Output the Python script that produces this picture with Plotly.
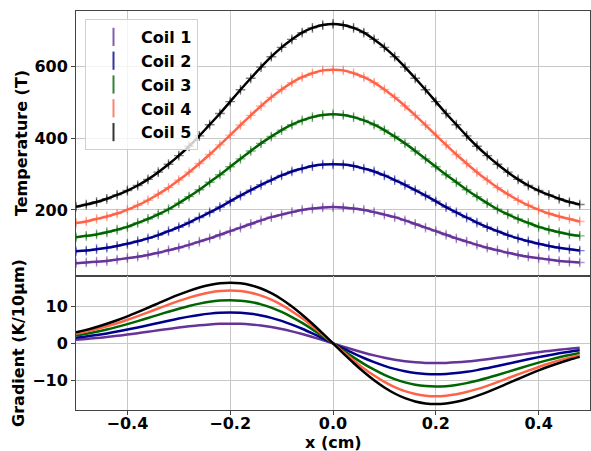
import plotly.graph_objects as go
from plotly.subplots import make_subplots

# positions (cm)
x_pos = [round(-0.50 + 0.02 * i, 2) for i in range(50)]

coil_names = ["Coil 1", "Coil 2", "Coil 3", "Coil 4", "Coil 5"]
coil_colors = ["#663399", "#00008b", "#006400", "#ff6347", "#000000"]

# Temperature (T)
temp_coil1 = [52, 54, 56, 58, 62, 66, 70, 75, 81, 88, 95, 103, 112, 121, 131, 141, 151, 161, 171, 180, 187, 194, 200, 204, 207,
              208,
              207, 204, 200, 194, 187, 180, 171, 161, 151, 141, 131, 121, 112, 103, 95, 88, 81, 75, 70, 66, 62, 58, 56, 54]
temp_coil2 = [85, 87, 91, 95, 100, 106, 113, 121, 130, 141, 152, 165, 179, 193, 208, 224, 240, 255, 270, 283, 296, 307, 315, 322, 326,
              327,
              326, 322, 315, 307, 296, 283, 270, 255, 240, 224, 208, 193, 179, 165, 152, 141, 130, 121, 113, 106, 100, 95, 91, 87]
temp_coil3 = [124, 128, 132, 138, 145, 153, 164, 175, 188, 202, 219, 237, 256, 277, 298, 320, 342, 364, 385, 404, 422, 437, 449, 458, 464,
              466,
              464, 458, 449, 437, 422, 404, 385, 364, 342, 320, 298, 277, 256, 237, 219, 202, 188, 175, 164, 153, 145, 138, 132, 128]
temp_coil4 = [164, 168, 175, 182, 190, 201, 213, 227, 244, 262, 283, 305, 329, 354, 381, 408, 436, 463, 489, 513, 535, 554, 569, 580, 588,
              590,
              588, 580, 569, 554, 535, 513, 489, 463, 436, 408, 381, 354, 329, 305, 283, 262, 244, 227, 213, 201, 190, 182, 175, 168]
temp_coil5 = [209, 215, 222, 231, 242, 254, 268, 285, 305, 327, 351, 377, 406, 437, 468, 501, 534, 566, 597, 626, 652, 674, 693, 706, 714,
              717,
              714, 706, 693, 674, 652, 626, 597, 566, 534, 501, 468, 437, 406, 377, 351, 327, 305, 285, 268, 254, 242, 231, 222, 215]

# Gradient (K/10um)
grad_coil1 = [0.96, 1.18, 1.43, 1.71, 2.02, 2.37, 2.73, 3.11, 3.50, 3.89, 4.26, 4.59, 4.88, 5.10, 5.25, 5.30, 5.25, 5.08, 4.79, 4.38, 3.86, 3.23, 2.51, 1.71, 0.87,
              0,
              -0.87, -1.71, -2.51, -3.23, -3.86, -4.38, -4.79, -5.08, -5.25, -5.30, -5.25, -5.10, -4.88, -4.59, -4.26, -3.89, -3.50, -3.11, -2.73, -2.37, -2.02, -1.71, -1.43, -1.18]
grad_coil2 = [1.50, 1.84, 2.24, 2.68, 3.17, 3.70, 4.28, 4.87, 5.48, 6.09, 6.66, 7.19, 7.64, 7.99, 8.22, 8.30, 8.21, 7.95, 7.50, 6.86, 6.04, 5.05, 3.93, 2.68, 1.36,
              0,
              -1.36, -2.68, -3.93, -5.05, -6.04, -6.86, -7.50, -7.95, -8.21, -8.30, -8.22, -7.99, -7.64, -7.19, -6.66, -6.09, -5.48, -4.87, -4.28, -3.70, -3.17, -2.68, -2.24, -1.84]
grad_coil3 = [2.10, 2.58, 3.12, 3.74, 4.43, 5.18, 5.98, 6.81, 7.67, 8.51, 9.31, 10.05, 10.68, 11.17, 11.49, 11.60, 11.48, 11.11, 10.48, 9.59, 8.44, 7.06, 5.49, 3.75, 1.90,
              0,
              -1.90, -3.75, -5.49, -7.06, -8.44, -9.59, -10.48, -11.11, -11.48, -11.60, -11.49, -11.17, -10.68, -10.05, -9.31, -8.51, -7.67, -6.81, -5.98, -5.18, -4.43, -3.74, -3.12, -2.58]
grad_coil4 = [2.57, 3.16, 3.82, 4.58, 5.42, 6.34, 7.32, 8.34, 9.38, 10.42, 11.40, 12.30, 13.07, 13.67, 14.06, 14.20, 14.05, 13.60, 12.83, 11.73, 10.33, 8.64, 6.72, 4.59, 2.33,
              0,
              -2.33, -4.59, -6.72, -8.64, -10.33, -11.73, -12.83, -13.60, -14.05, -14.20, -14.06, -13.67, -13.07, -12.30, -11.40, -10.42, -9.38, -8.34, -7.32, -6.34, -5.42, -4.58, -3.82, -3.16]
grad_coil5 = [2.95, 3.62, 4.39, 5.26, 6.22, 7.27, 8.40, 9.57, 10.77, 11.96, 13.09, 14.12, 15.01, 15.70, 16.14, 16.30, 16.13, 15.61, 14.73, 13.47, 11.86, 9.92, 7.71, 5.27, 2.67,
              0,
              -2.67, -5.27, -7.71, -9.92, -11.86, -13.47, -14.73, -15.61, -16.13, -16.30, -16.14, -15.70, -15.01, -14.12, -13.09, -11.96, -10.77, -9.57, -8.40, -7.27, -6.22, -5.26, -4.39, -3.62]

temps = [temp_coil1, temp_coil2, temp_coil3, temp_coil4, temp_coil5]
grads = [grad_coil1, grad_coil2, grad_coil3, grad_coil4, grad_coil5]

x_ticks = [-0.4, -0.2, 0.0, 0.2, 0.4]
temp_ticks = [200, 400, 600]
grad_ticks = [-10, 0, 10]

FONT = dict(family="DejaVu Sans", size=16, color="black", weight="bold")


def rgba(hexc, a):
    h = hexc.lstrip("#")
    r, g, b = int(h[0:2], 16), int(h[2:4], 16), int(h[4:6], 16)
    return f"rgba({r},{g},{b},{a})"


fig = make_subplots(rows=2, cols=1, shared_xaxes=True, vertical_spacing=0,
                    row_heights=[265, 134])

for name, col, t, g in zip(coil_names, coil_colors, temps, grads):
    # measured points (error-bar style crosses)
    fig.add_trace(go.Scatter(
        x=x_pos, y=t, mode="markers", showlegend=False, hoverinfo="skip",
        marker=dict(symbol="cross-thin", size=7, color=rgba(col, 0.5),
                    line=dict(width=1.4, color=rgba(col, 0.5))),
        error_y=dict(type="constant", value=9, width=0, thickness=1.2,
                     color=rgba(col, 0.5)),
    ), row=1, col=1)
    # fitted line
    fig.add_trace(go.Scatter(
        x=x_pos, y=t, mode="lines", showlegend=False,
        line=dict(color=col, width=2.5, shape="spline"),
    ), row=1, col=1)
    # gradient line
    fig.add_trace(go.Scatter(
        x=x_pos, y=g, mode="lines", showlegend=False,
        line=dict(color=col, width=2.5, shape="spline"),
    ), row=2, col=1)
    # legend entry
    fig.add_trace(go.Scatter(
        x=[None], y=[None], mode="markers", name=name,
        marker=dict(symbol="line-ns", size=13, color=rgba(col, 0.8),
                    line=dict(width=2, color=rgba(col, 0.8))),
    ), row=1, col=1)

axis_common = dict(showline=True, linecolor="#444", linewidth=1, mirror=True,
                   ticks="outside", ticklen=4, tickcolor="#444",
                   showgrid=True, gridcolor="#c8c8c8", gridwidth=1,
                   zeroline=False, tickfont=FONT, automargin=False)

fig.update_xaxes(range=[-0.5, 0.5], tickvals=x_ticks, **axis_common)
fig.update_xaxes(showticklabels=False, row=1, col=1)
fig.update_xaxes(tickformat=".1f", ticklabelstandoff=-5, row=2, col=1)
fig.update_yaxes(**axis_common)
fig.update_yaxes(range=[16.4, 753], tickvals=temp_ticks, row=1, col=1)
fig.update_yaxes(range=[-17.9, 18.1], tickvals=grad_ticks, row=2, col=1)

# axis titles
fig.add_annotation(text="Temperature (T)", xref="paper", yref="paper",
                   x=-0.107, y=0.669, xanchor="center", yanchor="middle",
                   textangle=-90, showarrow=False, font=FONT)
fig.add_annotation(text="Gradient (K/10μm)", xref="paper", yref="paper",
                   x=-0.111, y=0.168, xanchor="center", yanchor="middle",
                   textangle=-90, showarrow=False, font=FONT)
fig.add_annotation(text="x (cm)", xref="paper", yref="paper",
                   x=0.5, y=-0.082, xanchor="center", yanchor="middle",
                   showarrow=False, font=FONT)

fig.update_layout(
    width=591, height=451, autosize=False,
    margin=dict(l=76, r=1, t=11, b=41, autoexpand=False),
    paper_bgcolor="white", plot_bgcolor="white",
    font=FONT,
    legend=dict(x=0.0175, y=0.98, xanchor="left", yanchor="top",
                bgcolor="rgba(255,255,255,0.8)", bordercolor="#d0d0d0", borderwidth=1,
                font=FONT, tracegroupgap=0, itemwidth=45),
)

post = ("document.body.style.margin='0px';"
        "document.body.style.overflow='hidden';"
        "Plotly.relayout('{plot_id}', {width: 591, height: 451});")

fig.write_html("out.html", config={"responsive": False, "displayModeBar": False},
               post_script=post)
